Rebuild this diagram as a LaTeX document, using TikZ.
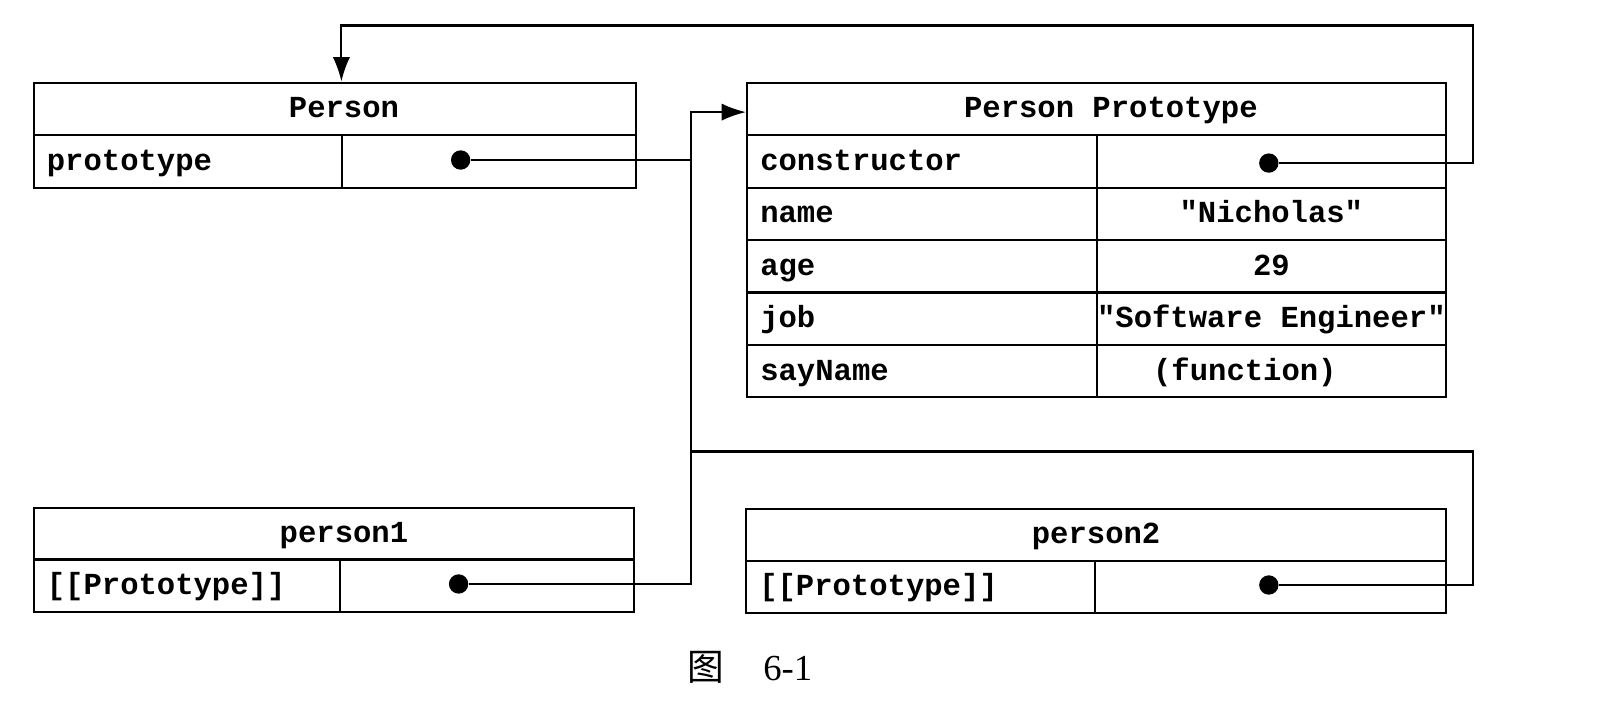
\documentclass[tikz,border=0pt]{standalone}
\usepackage{fontspec}
\usetikzlibrary{arrows.meta}
\newfontfamily\monob{Liberation Mono}[BoldFont=* Bold]
\newfontfamily\cjk{Noto Sans CJK SC}
\newfontfamily\serifnum{Liberation Serif}
\begin{document}
\begin{tikzpicture}[x=1pt,y=-1pt,
  cellbase/.style={draw, line width=2pt, rectangle, anchor=north west, inner ysep=0pt,
    minimum height=51.5pt, text height=20pt, text depth=2pt,
    font=\monob\bfseries\fontsize{30}{34}\selectfont},
  keycell/.style={cellbase, inner xsep=13pt, align=left, text width=#1-26pt, minimum width=#1},
  valcell/.style={cellbase, inner xsep=0pt, minimum width=#1},
  headcell/.style={cellbase, inner xsep=0pt, minimum width=#1},
  dotnode/.style={circle, fill=black, inner sep=0pt, minimum width=16pt, minimum height=19pt},
  link/.style={line width=2pt},
  arrowlink/.style={line width=2pt, -{Latex[length=24pt,width=17pt]}}]
\useasboundingbox (0,0) rectangle (1568,689);

% Person
\node[headcell=591pt] (pHead) at (32,80) {\hspace*{18pt}Person};
\node[keycell=303pt] (pKey) at (32,131.5) {prototype};
\node[valcell=288pt] (pVal) at (335,131.5) {};
\node[dotnode] (dP) at (452,157) {};

% Person Prototype
\node[headcell=686pt] (ppHead) at (732,80) {\hspace*{28pt}Person Prototype};
\node[keycell=343pt] (k1) at (732,131.5) {constructor};
\node[valcell=343pt] (v1) at (1075,131.5) {};
\node[keycell=343pt] (k2) at (732,183) {name};
\node[valcell=343pt] (v2) at (1075,183) {"Nicholas"};
\node[keycell=343pt] (k3) at (732,234.5) {age};
\node[valcell=343pt] (v3) at (1075,234.5) {29};
\node[keycell=343pt] (k4) at (732,286) {job};
\node[valcell=343pt] (v4) at (1075,286) {"Software Engineer"};
\node[keycell=343pt] (k5) at (732,337.5) {sayName};
\node[valcell=343pt] (v5) at (1075,337.5) {(function)\hspace*{52pt}};
\node[dotnode] (dC) at (1245,160) {};

% person1
\node[headcell=589pt] (p1Head) at (32,497) {\hspace*{20pt}person1};
\node[keycell=301pt] (p1Key) at (32,548) {[[Prototype]]};
\node[valcell=288pt] (p1Val) at (333,548) {};
\node[dotnode] (d1) at (450,573) {};

% person2
\node[headcell=687pt] (p2Head) at (731,498) {person2};
\node[keycell=342pt] (p2Key) at (731,549) {[[Prototype]]};
\node[valcell=345pt] (p2Val) at (1073,549) {};
\node[dotnode] (d2) at (1245,574) {};

% routing points
\coordinate (trunkTop) at (678,110);
\coordinate (r1) at (1445,25);
\coordinate (topL) at (335,25);
\coordinate (r2) at (1445,443);

% connectors
\draw[link] (dP) -- (dP -| trunkTop);
\draw[arrowlink] (d1) -| (trunkTop) -- (trunkTop -| ppHead.west);
\draw[link] (d2) -| (r2) -- (r2 -| trunkTop);
\draw[arrowlink] (dC) -| (r1) -- (topL) -- (topL |- pHead.north);

% caption
\node (cap) at (736,655) {\cjk\fontsize{36}{40}\selectfont 图\hspace{38pt}\serifnum 6-1};
\end{tikzpicture}
\end{document}
